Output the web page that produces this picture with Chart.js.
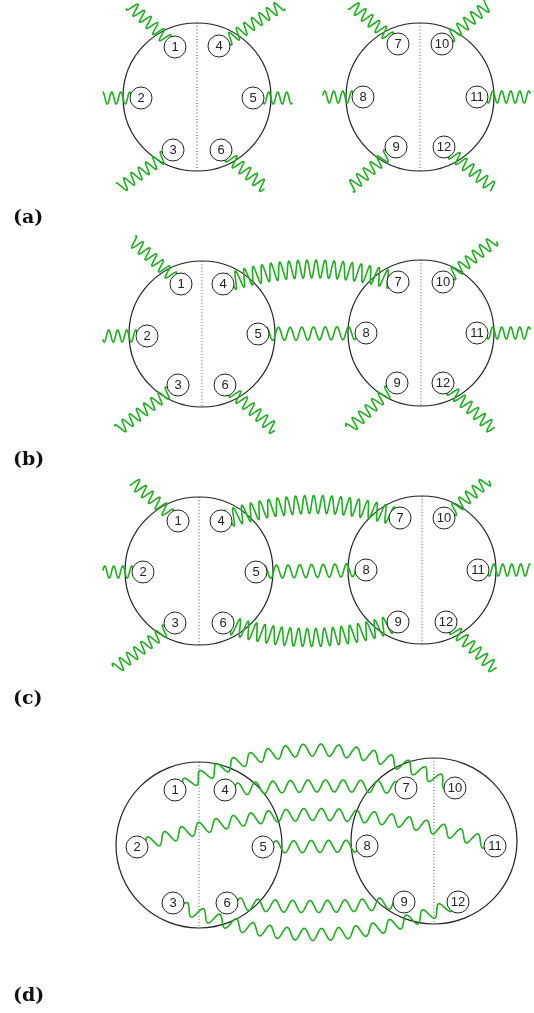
<!DOCTYPE html>
<html><head><meta charset="utf-8">
<script src="https://cdn.jsdelivr.net/npm/chart.js@4"></script>
<style>html,body{margin:0;padding:0;background:#fff}canvas{display:block}</style>
</head><body>
<canvas id="c" width="534" height="1013"></canvas>
<script>
// ---- data ----
const nodeLabels = ['1','2','3','4','5','6','7','8','9','10','11','12'];
const panelLabels = ['(a)','(b)','(c)','(d)'];
const panelLabelX = [13,13,13,13];
const panelLabelY = [218,460,699,996];

const nodeXA = [175,141,173,219,253,221,398,363,396,442,477,444];
const nodeYA = [47,98,150,46,98,150,44,97,147,44,97,147];
const nodeXB = [181,147,178,223,258,225,398,366,397,443,477,443];
const nodeYB = [284,336,385,284,334,385,282,333,383,282,333,383];
const nodeXC = [178,143,175,221,256,223,400,366,398,444,478,446];
const nodeYC = [521,572,623,521,572,623,518,570,622,518,570,622];
const nodeXD = [175,137,173,225,263,227,406,367,404,455,495,458];
const nodeYD = [790,847,903,790,847,903,788,846,902,788,846,902];

const circleXA = [197,420], circleYA = [97,97],   circleRA = [74,74];
const circleXB = [202,421], circleYB = [334,333], circleRB = [73,73];
const circleXC = [199,422], circleYC = [571,570], circleRC = [74,74];
const circleXD = [199,434], circleYD = [845,841], circleRD = [83,83];

// external legs: [node, endX, endY]
const legsA = [[1,130,5],[2,103,98],[3,120,188],[4,282,5],[5,292,98],[6,265,188],
               [7,352,5],[8,323,97],[9,350,188],[10,488,5],[11,530,97],[12,493,188]];
const legsB = [[1,132,240],[2,103,336],[3,118,430],[6,275,430],
               [9,349,429],[10,495,240],[11,530,333],[12,493,429]];
const legsC = [[1,133,482],[2,103,572],[3,115,669],[10,488,480],[11,530,570],[12,495,669]];
const legsD = [];
// internal propagators: [from, to, midpoint sag]
const linksA = [];
const linksB = [[4,7,-14],[5,8,0]];
const linksC = [[4,7,-15],[5,8,0],[6,9,15]];
const linksD = [[1,10,-39],[4,7,-3],[2,11,-32],[5,8,0],[6,9,4],[3,12,32]];

// ---- assembly ----
const panels = [
  {nx:nodeXA, ny:nodeYA, cx:circleXA, cy:circleYA, cr:circleRA, legs:legsA, links:linksA, d:false},
  {nx:nodeXB, ny:nodeYB, cx:circleXB, cy:circleYB, cr:circleRB, legs:legsB, links:linksB, d:false},
  {nx:nodeXC, ny:nodeYC, cx:circleXC, cy:circleYC, cr:circleRC, legs:legsC, links:linksC, d:false},
  {nx:nodeXD, ny:nodeYD, cx:circleXD, cy:circleYD, cr:circleRD, legs:legsD, links:linksD, d:true}
];

const GREEN = '#1fae1f';
const nodePoints = [], nodeText = [];
const circlePoints = [], circleRadii = [];
const dottedSets = [];
panels.forEach(p => {
  p.nx.forEach((x,i) => { nodePoints.push({x:x, y:p.ny[i]}); nodeText.push(nodeLabels[i]); });
  p.cx.forEach((x,i) => {
    circlePoints.push({x:x, y:p.cy[i]}); circleRadii.push(p.cr[i]);
    dottedSets.push({
      type:'line', data:[{x:x, y:p.cy[i]-p.cr[i]},{x:x, y:p.cy[i]+p.cr[i]}],
      borderColor:'#555', borderWidth:1, borderDash:[1,2.2], pointRadius:0, order:3
    });
  });
});

function waveStyle(p, kind){
  if (p.d) return {amp:6, wl:17.5};
  if (kind==='leg') return {amp:6, wl:9};
  if (kind==='flat') return {amp:6.5, wl:11.7};
  return {amp:9, wl:8.8};
}

function drawWave(ctx, p0, p1, p2, amp, wl){
  let len = 0, prev = p0;
  for (let i=1;i<=50;i++){ const t=i/50;
    const x=(1-t)*(1-t)*p0.x+2*(1-t)*t*p1.x+t*t*p2.x, y=(1-t)*(1-t)*p0.y+2*(1-t)*t*p1.y+t*t*p2.y;
    len += Math.hypot(x-prev.x, y-prev.y); prev={x,y}; }
  const N = Math.max(50, Math.ceil(len/0.3));
  let s = 0; prev = p0;
  ctx.beginPath();
  for (let i=0;i<=N;i++){
    const t=i/N;
    const x=(1-t)*(1-t)*p0.x+2*(1-t)*t*p1.x+t*t*p2.x, y=(1-t)*(1-t)*p0.y+2*(1-t)*t*p1.y+t*t*p2.y;
    const dx=2*(1-t)*(p1.x-p0.x)+2*t*(p2.x-p1.x), dy=2*(1-t)*(p1.y-p0.y)+2*t*(p2.y-p1.y);
    const dl=Math.hypot(dx,dy)||1;
    s += Math.hypot(x-prev.x, y-prev.y); prev={x,y};
    const off = amp*Math.sin(2*Math.PI*s/wl);
    const px = x + (-dy/dl)*off, py = y + (dx/dl)*off;
    if (i===0) ctx.moveTo(px,py); else ctx.lineTo(px,py);
  }
  ctx.stroke();
}

const wavePlugin = {
  id:'waves',
  beforeDatasetDraw(chart, args){
    if (args.index !== 0) return;
    const sx = chart.scales.x, sy = chart.scales.y, ctx = chart.ctx;
    const P = (x,y) => ({x:sx.getPixelForValue(x), y:sy.getPixelForValue(y)});
    ctx.save();
    ctx.strokeStyle = GREEN; ctx.lineWidth = 1.6; ctx.lineJoin='round'; ctx.lineCap='round';
    panels.forEach(p => {
      p.legs.forEach(l => {
        const i = l[0]-1;
        const a = P(p.nx[i], p.ny[i]), b = P(l[1], l[2]);
        const st = waveStyle(p,'leg');
        drawWave(ctx, a, {x:(a.x+b.x)/2, y:(a.y+b.y)/2}, b, st.amp, st.wl);
      });
      p.links.forEach(l => {
        const i = l[0]-1, j = l[1]-1;
        const mx = (p.nx[i]+p.nx[j])/2, my = (p.ny[i]+p.ny[j])/2 + 2*l[2];
        const st = waveStyle(p, l[2]===0 ? 'flat' : 'arc');
        drawWave(ctx, P(p.nx[i],p.ny[i]), P(mx,my), P(p.nx[j],p.ny[j]), st.amp, st.wl);
      });
    });
    ctx.restore();
  },
  afterDatasetsDraw(chart){
    const sx = chart.scales.x, sy = chart.scales.y, ctx = chart.ctx;
    ctx.save();
    ctx.fillStyle = '#222';
    ctx.font = '13px "Liberation Sans", Arial, sans-serif';
    ctx.textAlign = 'center'; ctx.textBaseline = 'middle';
    nodePoints.forEach((pt,i) => {
      ctx.fillText(nodeText[i], sx.getPixelForValue(pt.x), sy.getPixelForValue(pt.y)+0.5);
    });
    ctx.fillStyle = '#111';
    ctx.font = 'bold 19px "DejaVu Serif", serif';
    ctx.textAlign = 'left';
    panelLabels.forEach((t,i) => {
      ctx.fillText(t, sx.getPixelForValue(panelLabelX[i]), sy.getPixelForValue(panelLabelY[i]));
    });
    ctx.restore();
  }
};

new Chart(document.getElementById('c'), {
  type:'scatter',
  data:{ datasets:[
    {data:nodePoints, pointRadius:11, pointBackgroundColor:'#fff', pointBorderColor:'#222',
     pointBorderWidth:1, pointHoverRadius:11, order:0, clip:false},
    {data:circlePoints,
     pointRadius:(c)=>{ const s=c.chart.scales.x; const i=c.dataIndex;
        return s ? s.getPixelForValue(circlePoints[i].x+circleRadii[i]) - s.getPixelForValue(circlePoints[i].x) : circleRadii[i]; },
     pointBackgroundColor:'rgba(0,0,0,0)', pointBorderColor:'#222', pointBorderWidth:1.2, order:2, clip:false},
    ...dottedSets
  ]},
  options:{
    responsive:false, animation:false, devicePixelRatio:1, events:[],
    layout:{padding:0, autoPadding:false},
    scales:{
      x:{type:'linear', min:0, max:534, display:false},
      y:{type:'linear', min:0, max:1013, reverse:true, display:false}
    },
    plugins:{legend:{display:false}, tooltip:{enabled:false}}
  },
  plugins:[wavePlugin]
});
</script>
</body></html>
